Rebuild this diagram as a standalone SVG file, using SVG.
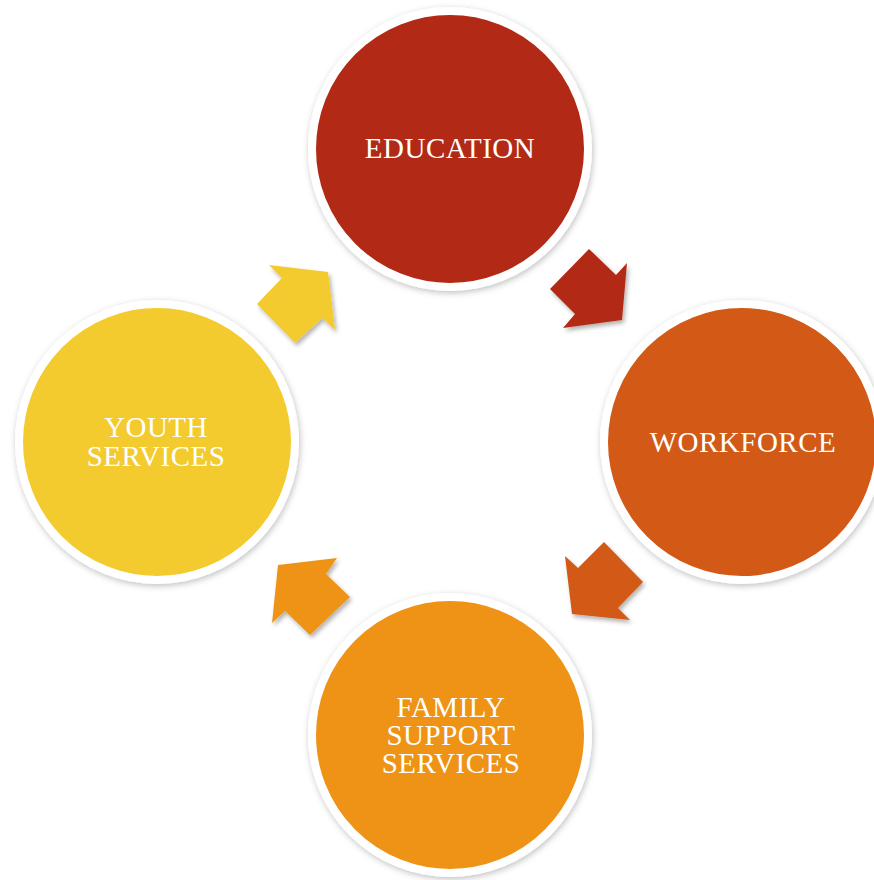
<svg xmlns="http://www.w3.org/2000/svg" width="874" height="880" viewBox="0 0 874 880">
<defs>
<filter id="sh" x="-20%" y="-20%" width="140%" height="140%">
<feDropShadow dx="1" dy="2" stdDeviation="3" flood-color="#000" flood-opacity="0.25"/>
</filter>
<filter id="ash" x="-20%" y="-20%" width="150%" height="150%">
<feDropShadow dx="2" dy="3" stdDeviation="2" flood-color="#000" flood-opacity="0.3"/>
</filter>
</defs>
<style>
.ring{stroke:#fff;stroke-width:8;filter:url(#sh)}
.lbl{font-family:"Liberation Serif","Times New Roman",serif;font-size:29px;letter-spacing:0.5px;fill:#fff;text-anchor:middle}
.arr{filter:url(#ash)}
</style>
<rect width="874" height="880" fill="#fff"/>
<g id="connectors">
<polygon class="arr" fill="#B22B17" points="589,249 616,275 627,263 622,320 563,328 575,314 550,289"/>
<polygon class="arr" fill="#D25A15" points="604,542 643,582 618,608 630,620 572,614 565,556 578,568"/>
<polygon class="arr" fill="#EE9318" points="278,565 337,558 326,574 350,597 310,635 285,611 272,623"/>
<polygon class="arr" fill="#F4CB2E" points="269,265 328,272 335,330 322,318 295,343 257,304 282,278"/>
</g>
<g id="education">
<circle class="ring" cx="450" cy="149" r="138" fill="#B22B17"/>
<text class="lbl" x="450" y="158">EDUCATION</text>
</g>
<g id="workforce">
<circle class="ring" cx="742" cy="442" r="138" fill="#D25A15"/>
<text class="lbl" x="743" y="452">WORKFORCE</text>
</g>
<g id="family">
<circle class="ring" cx="450" cy="735" r="138" fill="#EE9318"/>
<text class="lbl" x="451" y="717">FAMILY</text>
<text class="lbl" x="451" y="745">SUPPORT</text>
<text class="lbl" x="451" y="773">SERVICES</text>
</g>
<g id="youth">
<circle class="ring" cx="157" cy="442" r="138" fill="#F4CB2E"/>
<text class="lbl" x="156" y="437">YOUTH</text>
<text class="lbl" x="156" y="466">SERVICES</text>
</g>
</svg>
